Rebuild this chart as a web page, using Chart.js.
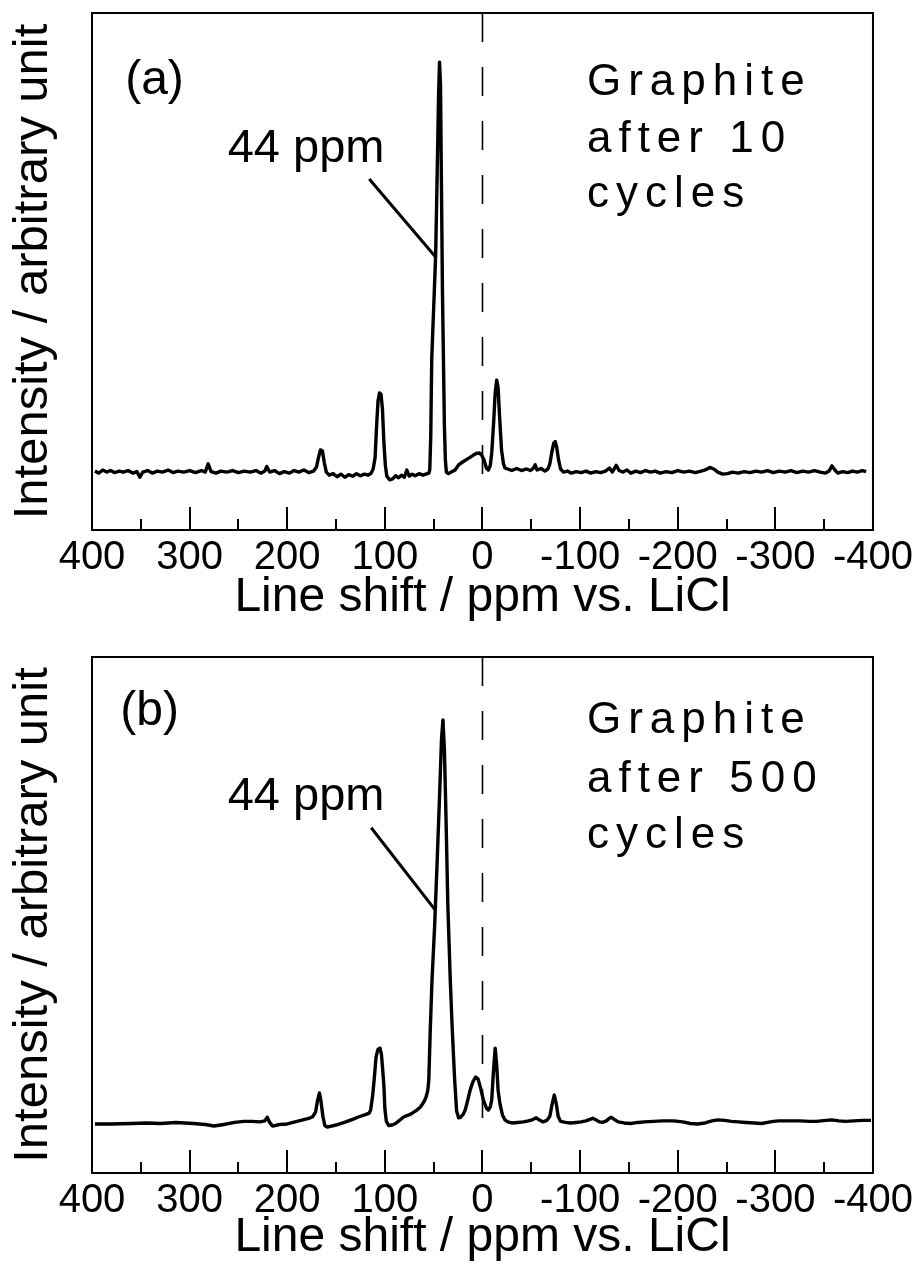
<!DOCTYPE html>
<html><head><meta charset="utf-8">
<script src="https://cdn.jsdelivr.net/npm/chart.js@4.4.1/dist/chart.umd.min.js"></script>
<style>
html,body{margin:0;padding:0;background:#fff;}
#wrap{position:relative;width:917px;height:1270px;background:#fff;}
canvas{position:absolute;left:0;}
#ca{top:0;}
#cb{top:640px;}
</style></head><body>
<div id="wrap">
<canvas id="ca" width="917" height="640"></canvas>
<canvas id="cb" width="917" height="630"></canvas>
</div>
<script>
// ---------- data ----------
const shiftA = [397,393,389,385,381,377,372,368,363,358,354,351,348,343,338,333,328,322,317,312,306,300,294,288,284,281,278,273,268,262,256,250,244,238,232,227,223,221,218,213,208,203,198,193,188,183,178,173,170,168,166,164,162,160,157,153,149,145,141,137,133,129,125,121,117,114,112,110,108.5,107,105.5,104,102.5,101,99.5,98,95,92,89,86,83,80,77.5,75,72,69,65,61,58,55,54,53,52,50,48,46.5,45,44,43,42,41,40,39,38,37,35,32,28,24.5,20,14,10,6.5,3,1,-1.5,-4,-6,-8,-9.5,-11.5,-13,-14.6,-16,-17.5,-19.5,-21.5,-23,-26,-30,-35,-40,-45,-49,-52,-54,-56,-60,-64,-67,-69,-71,-73,-74.5,-76,-78,-80,-83,-87,-91,-96,-101,-106,-111,-116,-121,-126,-130,-133,-137,-140,-144,-148,-152,-157,-162,-167,-172,-177,-182,-188,-194,-200,-206,-212,-218,-224,-229,-233,-237,-241,-246,-251,-256,-262,-268,-274,-280,-286,-292,-298,-304,-310,-316,-322,-328,-334,-340,-346,-351,-355,-358,-361,-364,-369,-374,-379,-384,-389,-393];
const intensityA = [11.4,11.0,11.6,11.2,11.5,11.1,11.4,11.2,11.5,11.0,11.3,10.2,11.2,11.5,11.0,11.4,11.2,11.6,11.1,11.4,11.2,11.5,11.1,11.5,11.2,12.8,11.3,11.0,11.4,11.2,11.5,11.1,11.4,11.2,11.5,11.0,11.4,12.3,11.2,11.5,10.9,11.3,11.0,11.5,11.2,11.6,11.1,11.4,12.2,14.0,15.5,15.3,13.0,11.2,10.6,10.9,10.3,10.8,10.2,10.7,10.4,10.9,10.5,10.8,10.6,11.0,11.8,14.0,20.0,25.0,26.5,26.3,23.5,17.0,12.5,10.4,9.7,9.9,10.5,10.1,10.6,10.2,11.6,10.4,10.8,10.5,10.9,10.6,10.8,11.0,11.6,18.0,33.0,43.0,53.0,68.0,84.0,90.5,86.0,66.0,46.0,33.0,20.0,13.5,11.2,10.9,11.2,11.6,12.6,13.2,13.9,14.4,14.8,14.9,14.5,13.6,12.0,11.6,12.5,15.0,21.0,26.5,29.0,27.5,22.0,15.5,12.8,12.0,11.8,11.5,11.9,11.5,11.8,11.5,11.9,12.6,11.6,11.9,11.4,11.8,12.8,15.0,16.8,17.1,16.0,13.5,11.8,11.2,11.4,11.0,11.3,11.1,11.4,11.0,11.3,11.1,11.4,12.0,11.2,12.5,11.5,11.2,11.6,11.0,11.4,11.1,11.5,11.2,11.4,11.0,11.3,11.1,11.5,11.2,11.4,11.1,11.4,11.7,12.1,11.8,11.2,10.8,10.9,11.2,11.0,11.3,11.1,11.4,11.2,11.5,11.1,11.4,11.2,11.5,11.1,11.4,11.2,11.5,11.2,11.0,11.4,12.4,11.6,11.0,11.3,11.1,11.4,11.2,11.5,11.3];

const shiftB = [397,380,360,344,330,314,296,284,275,265,254,244,236,228,223,220.5,218,215,208,200,192,184,178,174,171,169,167,165.5,163.5,161.5,159,150,140,133,126.5,120,116,114.5,112.5,111,109,107,105,103.5,102,101,100,98.5,96,92.5,89,85,80.5,76,72,68,63.5,60,58,56,55,53.5,51.7,49,46.5,44,42,40.5,39,37.5,35.5,33,31,28.5,26.5,24.5,22.5,20,17.7,15,12.6,10,7,4.5,2,-1,-4,-6,-8,-9.5,-11,-13,-14.5,-16,-18,-20.5,-23,-26,-30,-36,-42,-47,-51,-55,-58,-62,-66,-69,-71,-73.5,-75.5,-77.5,-80,-85,-90,-96,-101,-106,-110,-113,-116,-120,-123,-127,-130,-132,-135,-139,-145,-152,-159,-166,-175,-185,-196,-205,-213,-220,-228,-235,-241,-248,-255,-262,-270,-278,-286,-292,-298,-304,-315,-325,-335,-342,-347,-352,-358,-365,-372,-380,-390,-398];
const intensityB = [9.5,9.5,9.6,9.7,9.6,9.8,9.6,9.4,9.1,9.4,9.8,10.0,10.0,9.9,10.1,10.8,9.8,9.1,9.4,9.5,9.9,10.3,10.6,10.9,11.8,14.0,15.5,14.0,11.0,9.2,8.9,9.3,9.9,10.4,10.9,11.3,11.6,12.3,15.0,18.0,22.5,24.0,24.2,23.0,19.5,17.0,12.5,10.0,9.2,9.3,9.6,10.2,10.9,11.2,11.6,12.1,12.8,13.8,14.6,16.0,18.0,27.7,37.4,48.0,60.0,73.0,84.0,87.8,82.0,70.0,52.0,37.4,28.0,18.0,12.0,10.7,10.8,11.3,12.2,14.2,16.1,17.6,18.6,18.2,16.5,14.1,12.6,12.2,12.8,14.2,19.0,24.2,21.0,16.0,13.3,11.2,10.3,9.9,9.7,9.8,9.9,10.1,10.3,10.7,10.3,9.9,10.2,11.0,13.0,15.1,13.5,11.0,10.0,9.8,9.7,9.8,9.9,10.1,10.4,10.6,10.3,9.9,9.8,10.1,10.6,10.8,10.4,9.9,9.7,9.6,9.8,9.9,10.0,10.1,10.1,9.9,9.6,9.5,9.7,10.1,10.3,10.2,10.0,9.9,9.8,9.7,9.6,9.8,10.0,10.1,10.1,10.1,10.0,10.0,10.1,10.2,10.3,10.1,10.0,10.1,10.2,10.2];

const xMajorTicks = [400,300,200,100,0,-100,-200,-300,-400];
const xMinorTicks = [350,250,150,50,-50,-150,-250,-350];
const xTitle = 'Line shift / ppm vs. LiCl';
const yTitle = 'Intensity / arbitrary unit';
const panelLabels = ['(a)','(b)'];
const sampleTextA = ['Graphite','after 10','cycles'];
const sampleTextB = ['Graphite','after 500','cycles'];
const peakLabel = '44 ppm';
// annotation anchors in data units (ppm, intensity)
const panelLabelAnchorA = [366, 84.3];
const panelLabelAnchorB = [371, 86.8];
const sampleAnchorA = [-107, 84.1, 73.1, 62.5];
const sampleAnchorB = [-107, 85.3, 73.8, 63.0];
const peakLabelAnchorA = [261, 71.2];
const peakLabelAnchorB = [261, 70.3];
const pointerA = [[116, 67.9], [48, 52.8]];
const pointerB = [[114, 66.9], [48.5, 51.0]];
const zeroLineEnd = 8.3;

// ---------- drawing ----------
const FONT = "'Liberation Sans', Arial, Helvetica, sans-serif";

const annotPlugin = {
  id: 'annot',
  afterDraw(chart) {
    const o = chart.options.plugins.annot;
    const {ctx, chartArea: ca} = chart;
    const x = chart.scales.x, y = chart.scales.y;
    ctx.save();
    ctx.strokeStyle = '#000';
    ctx.lineWidth = 2;
    ctx.strokeRect(ca.left, ca.top, ca.right - ca.left, ca.bottom - ca.top);
    ctx.beginPath();
    xMajorTicks.forEach(v => {
      const px = Math.round(x.getPixelForValue(v));
      ctx.moveTo(px, ca.bottom); ctx.lineTo(px, ca.bottom - 23);
    });
    xMinorTicks.forEach(v => {
      const px = Math.round(x.getPixelForValue(v));
      ctx.moveTo(px, ca.bottom); ctx.lineTo(px, ca.bottom - 11);
    });
    ctx.stroke();

    ctx.fillStyle = '#000';
    ctx.textAlign = 'left';
    ctx.textBaseline = 'alphabetic';
    ctx.font = '48px ' + FONT;
    ctx.fillText(o.panelLabel, x.getPixelForValue(o.panelAnchor[0]), y.getPixelForValue(o.panelAnchor[1]));
    ctx.font = '47px ' + FONT;
    ctx.fillText(peakLabel, x.getPixelForValue(o.peakAnchor[0]), y.getPixelForValue(o.peakAnchor[1]));
    ctx.font = '44px ' + FONT;
    try { ctx.letterSpacing = '7px'; } catch (e) {}
    o.sampleText.forEach((t, i) => {
      ctx.fillText(t, x.getPixelForValue(o.sampleAnchor[0]), y.getPixelForValue(o.sampleAnchor[i + 1]));
    });
    try { ctx.letterSpacing = '0px'; } catch (e) {}
    ctx.restore();
  }
};

function makeChart(id, shift, intensity, o) {
  const spectrum = shift.map((s, i) => ({x: s, y: intensity[i]}));
  return new Chart(document.getElementById(id), {
    type: 'line',
    data: {
      datasets: [
        {data: spectrum, borderColor: '#000', borderWidth: 3.4, pointRadius: 0, tension: 0, borderJoinStyle: 'round', fill: false},
        {data: [{x: 0, y: 100}, {x: 0, y: zeroLineEnd}], borderColor: '#000', borderWidth: 1.6, borderDash: [29, 25], pointRadius: 0, fill: false},
        {data: [{x: o.pointer[0][0], y: o.pointer[0][1]}, {x: o.pointer[1][0], y: o.pointer[1][1]}], borderColor: '#000', borderWidth: 3, pointRadius: 0, fill: false}
      ]
    },
    options: {
      responsive: false,
      animation: false,
      events: [],
      layout: {padding: {top: o.top, right: 41, bottom: 0, left: 0}},
      plugins: {
        legend: {display: false},
        tooltip: {enabled: false},
        annot: o
      },
      scales: {
        x: {
          type: 'linear', min: -400, max: 400, reverse: true, position: 'bottom',
          afterFit: s => { s.height = o.xHeight; },
          grid: {display: false, drawTicks: false},
          border: {display: false},
          ticks: {
            stepSize: 100, autoSkip: false, maxRotation: 0, padding: 4, color: '#000',
            font: {family: FONT, size: 40},
            callback: v => String(v)
          },
          title: {display: true, text: xTitle, color: '#000', font: {family: FONT, size: 48}, padding: {top: 0, bottom: o.titlePad}}
        },
        y: {
          type: 'linear', min: 0, max: 100, position: 'left',
          afterFit: s => { s.width = 92; },
          grid: {display: false, drawTicks: false},
          border: {display: false},
          ticks: {display: false},
          title: {display: true, text: yTitle, color: '#000', font: {family: FONT, size: 49}, padding: {top: 4, bottom: 0}}
        }
      }
    },
    plugins: [annotPlugin]
  });
}

makeChart('ca', shiftA, intensityA, {
  top: 13, xHeight: 110, titlePad: 13,
  panelLabel: panelLabels[0], panelAnchor: panelLabelAnchorA,
  sampleText: sampleTextA, sampleAnchor: sampleAnchorA,
  peakAnchor: peakLabelAnchorA, pointer: pointerA
});
makeChart('cb', shiftB, intensityB, {
  top: 17, xHeight: 97, titlePad: 3,
  panelLabel: panelLabels[1], panelAnchor: panelLabelAnchorB,
  sampleText: sampleTextB, sampleAnchor: sampleAnchorB,
  peakAnchor: peakLabelAnchorB, pointer: pointerB
});
</script>
</body></html>
